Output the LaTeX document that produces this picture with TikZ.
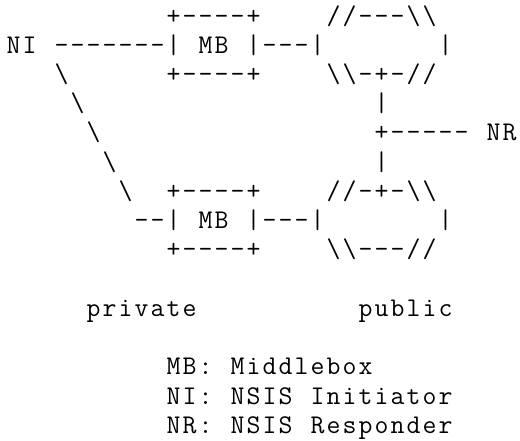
\documentclass[tikz,border=0pt]{standalone}
\tikzset{txt/.style={anchor=base west, inner sep=0pt, outer sep=0pt,
  font=\ttfamily\fontsize{27pt}{29.23pt}\selectfont, text=black}}
% monospaced cells: every character in a box 16pt wide
\def\cells#1{\cellsA#1\relax}
\def\cellsA#1{\ifx#1\relax\else\makebox[16pt][c]{#1}\expandafter\cellsA\fi}
% #1 name, #2 column, #3 row, #4 text
\newcommand\asciiat[4]{\node[txt] (#1) at ({5.5pt+#2*16pt},{441pt-53.3pt-(#3-2)*29.23pt}) {\cells{#4}};}
\newcommand\bsl{\textbackslash}
\begin{document}
\begin{tikzpicture}
\useasboundingbox (0,0) rectangle (520pt,441pt);
% row 1
\asciiat{mbAtop}{10}{1}{+----+}
\asciiat{cloudAtop}{20}{1}{//---\bsl\bsl}
% row 2
\asciiat{ni}{0}{2}{NI~-------|~MB~|---|}
\asciiat{cloudAright}{27}{2}{|}
% row 3
\asciiat{slashA}{3}{3}{\bsl}
\asciiat{mbAbot}{10}{3}{+----+}
\asciiat{cloudAbot}{20}{3}{\bsl\bsl-+-//}
% row 4
\asciiat{slashB}{4}{4}{\bsl}
\asciiat{vlineA}{23}{4}{|}
% row 5
\asciiat{slashC}{5}{5}{\bsl}
\asciiat{nr}{23}{5}{+-----~NR}
% row 6
\asciiat{slashD}{6}{6}{\bsl}
\asciiat{vlineB}{23}{6}{|}
% row 7
\asciiat{slashE}{7}{7}{\bsl}
\asciiat{mbBtop}{10}{7}{+----+}
\asciiat{cloudBtop}{20}{7}{//-+-\bsl\bsl}
% row 8
\asciiat{mbB}{8}{8}{--|~MB~|---|}
\asciiat{cloudBright}{27}{8}{|}
% row 9
\asciiat{mbBbot}{10}{9}{+----+}
\asciiat{cloudBbot}{20}{9}{\bsl\bsl---//}
% row 11
\asciiat{private}{5}{11}{private}
\asciiat{public}{22}{11}{public}
% legend
\asciiat{legMB}{10}{13}{MB:~Middlebox}
\asciiat{legNI}{10}{14}{NI:~NSIS~Initiator}
\asciiat{legNR}{10}{15}{NR:~NSIS~Responder}
\end{tikzpicture}
\end{document}
